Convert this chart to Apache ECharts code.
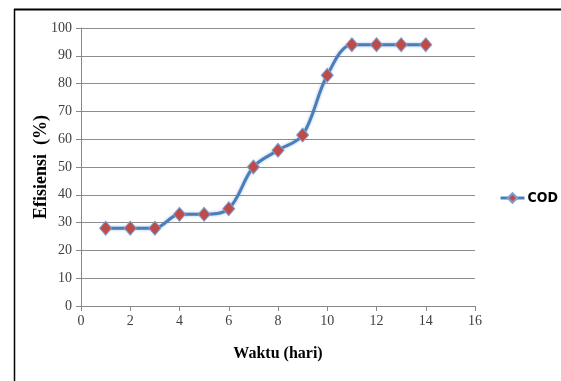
<!DOCTYPE html>
<html><head><meta charset="utf-8">
<script src="https://cdn.jsdelivr.net/npm/echarts@6/dist/echarts.min.js"></script>
<style>html,body{margin:0;padding:0;background:#fff}#c{width:561px;height:381px}</style>
</head><body><div id="c"></div>
<script>
const days = [1,2,3,4,5,6,7,8,9,10,11,12,13,14];
const cod = [28,28,28,33,33,35,50,56,61.5,83,94,94,94,94];
const seriesName = 'COD';
const xTitle = 'Waktu (hari)';
const yTitle = 'Efisiensi  (%)';

const chart = echarts.init(document.getElementById('c'));
chart.setOption({
  animation: false,
  backgroundColor: '#fff',
  grid: {left: 81, right: 86, top: 28, bottom: 75},
  legend: {
    data: [seriesName], left: 499, top: 191, orient: 'vertical', padding: 0,
    itemWidth: 24, itemHeight: 12, itemGap: 4,
    lineStyle: {width: 3, color: '#4a7ebb'},
    textStyle: {fontFamily: 'DejaVu Sans Condensed, sans-serif', fontWeight: 'bold', fontSize: 14, color: '#000', padding: [0,0,0,-2]}
  },
  xAxis: {
    type: 'value', min: 0, max: 16, interval: 2,
    name: xTitle, nameLocation: 'middle', nameGap: 40,
    nameTextStyle: {fontFamily: 'Liberation Serif', fontWeight: 'bold', fontSize: 16, color: '#000'},
    axisLine: {show: true, lineStyle: {color: '#888', width: 1}},
    axisTick: {show: true, inside: false, length: 5, lineStyle: {color: '#888'}},
    axisLabel: {fontFamily: 'Liberation Serif', fontSize: 14, color: '#404040', margin: 8},
    splitLine: {show: false}
  },
  yAxis: {
    type: 'value', min: 0, max: 100, interval: 10,
    name: yTitle, nameLocation: 'middle', nameGap: 31, nameRotate: 90, nameMoveOverlap: false,
    nameTextStyle: {fontFamily: 'Liberation Serif', fontWeight: 'bold', fontSize: 18, color: '#000'},
    axisLine: {show: true, lineStyle: {color: '#888', width: 1}},
    axisTick: {show: true, inside: false, length: 5, lineStyle: {color: '#888'}},
    axisLabel: {fontFamily: 'Liberation Serif', fontSize: 14, color: '#404040', margin: 9},
    splitLine: {show: true, lineStyle: {color: '#8c8c8c', width: 1}}
  },
  series: [{
    name: seriesName, type: 'line', smooth: 0.35,
    data: days.map((d, i) => [d, cod[i]]),
    symbol: 'diamond', symbolSize: [12, 14],
    lineStyle: {color: '#4a7ebb', width: 3, shadowColor: 'rgba(74,126,187,0.5)', shadowBlur: 3},
    itemStyle: {color: '#be4b48', borderColor: '#7f9fd0', borderWidth: 1}
  }],
  graphic: [
    {type: 'line', shape: {x1: 14, y1: 9.5, x2: 561, y2: 9.5}, style: {stroke: '#000', lineWidth: 2}, silent: true},
    {type: 'line', shape: {x1: 14.5, y1: 9, x2: 14.5, y2: 381}, style: {stroke: '#000', lineWidth: 1.5}, silent: true}
  ]
});
</script></body></html>
